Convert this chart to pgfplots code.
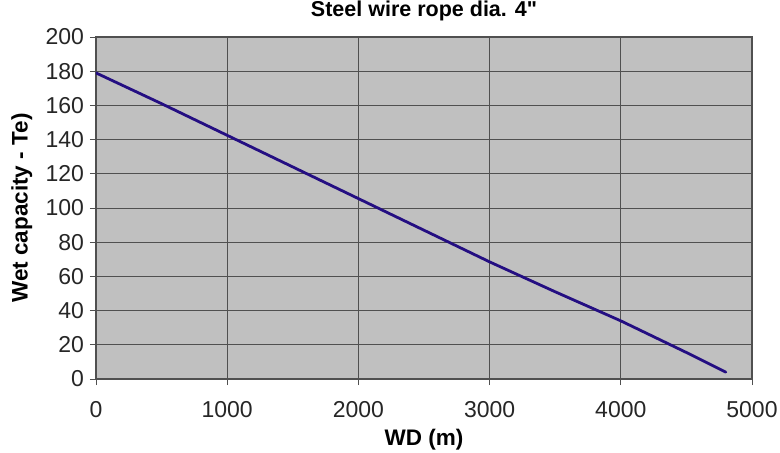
\documentclass[border=0pt]{standalone}
\usepackage{fontspec}
\setmainfont{Liberation Sans}[Ligatures=TeXOff]
\usepackage{pgfplots}
\pgfplotsset{compat=1.18}
\definecolor{plotbg}{RGB}{192,192,192}
\definecolor{gridc}{RGB}{80,80,80}
\definecolor{linec}{RGB}{36,14,130}
\begin{document}
\begin{tikzpicture}
\useasboundingbox (-96bp,-74bp) rectangle (684bp,379bp);
\begin{axis}[
  scale only axis,
  width=656bp, height=342bp,
  xmin=0, xmax=5000, ymin=0, ymax=200,
  xtick={0,1000,...,5000}, ytick={0,20,...,200},
  scaled x ticks=false,
  /pgf/number format/assume math mode=true,
  /pgf/number format/1000 sep={},
  axis background/.style={fill=plotbg},
  grid=major,
  major grid style={gridc, line width=0.9bp},
  axis line style={gridc, line width=1.1bp},
  tick style={gridc, line width=0.9bp},
  major tick length=6bp,
  tick align=outside,
  xtick pos=bottom, ytick pos=left,
  tick label style={font=\fontsize{23bp}{27bp}\selectfont, text=black!85},
  xticklabel style={yshift=-12.5bp},
  yticklabel style={xshift=-2.5bp},
  title={Steel wire rope dia. 4"},
  title style={font=\bfseries\fontsize{21.5bp}{26bp}\selectfont, at={(axis description cs:0.5,1.0585)}, anchor=center},
  xlabel={WD (m)},
  ylabel={Wet capacity - Te)},
  label style={font=\bfseries\fontsize{22.5bp}{27bp}\selectfont},
  xlabel style={at={(axis description cs:0.5,-0.178)}, anchor=center},
  ylabel style={at={(axis description cs:-0.113,0.5)}, anchor=center, rotate=0},
]
\addplot[linec, line width=2.8bp, line join=round, line cap=round] coordinates {
(0,179) (500,161) (1000,142.5) (1500,124) (2000,105.5) (2500,87)
(3000,68.5) (3500,51) (4000,34) (4500,15.5) (4800,4)
};
\end{axis}
\end{tikzpicture}
\end{document}
